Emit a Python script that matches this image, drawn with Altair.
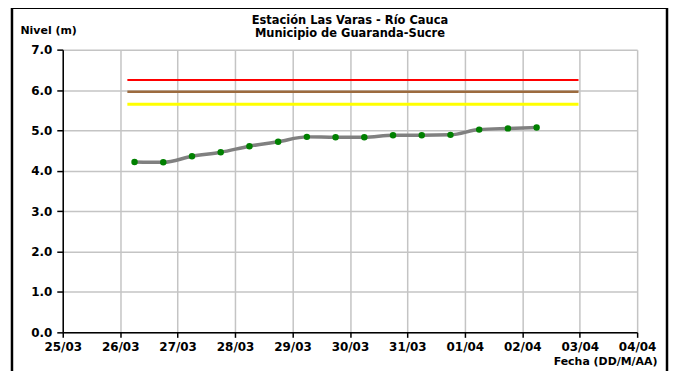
import altair as alt
import pandas as pd

# ---- data ----
times = [
    "2011-03-26T06:00", "2011-03-26T18:00", "2011-03-27T06:00", "2011-03-27T18:00",
    "2011-03-28T06:00", "2011-03-28T18:00", "2011-03-29T06:00", "2011-03-29T18:00",
    "2011-03-30T06:00", "2011-03-30T18:00", "2011-03-31T06:00", "2011-03-31T18:00",
    "2011-04-01T06:00", "2011-04-01T18:00", "2011-04-02T06:00",
]
levels = [4.22, 4.21, 4.36, 4.46, 4.61, 4.72, 4.84, 4.83, 4.83, 4.88, 4.88, 4.89, 5.02, 5.05, 5.07]

thr_levels = [6.25, 5.96, 5.65]
thr_colors = ["#ff0000", "#9c6b3f", "#ffff00"]
thr_widths = [2, 2.5, 3]
thr_start = "2011-03-26T03:00"
thr_end = "2011-04-02T23:30"

tick_days = [(3, d) for d in range(25, 32)] + [(4, d) for d in range(1, 5)]
y_ticks = [0, 1, 2, 3, 4, 5, 6, 7]

title_lines = ["Estación Las Varas - Río Cauca", "Municipio de Guaranda-Sucre"]
y_title = "Nivel (m)"
x_title = "Fecha (DD/M/AA)"

FONT = "DejaVu Sans"

df = pd.DataFrame({"t": times, "nivel": levels})
thr = pd.DataFrame({
    "nivel": thr_levels,
    "color": thr_colors,
    "w": thr_widths,
    "t0": [thr_start] * 3,
    "t1": [thr_end] * 3,
})

x_values = [alt.DateTime(year=2011, month=m, date=d) for m, d in tick_days]
x_domain = [alt.DateTime(year=2011, month=3, date=25), alt.DateTime(year=2011, month=4, date=4)]

x_scale = alt.Scale(domain=x_domain, nice=False)
y_scale = alt.Scale(domain=[0, 7], nice=False)

x_axis = alt.Axis(
    values=x_values, format="%d/%m", title=x_title, labelFlush=False,
    titleX=597, titleY=29, titleAlign="right", titleBaseline="middle",
    tickSize=5, labelPadding=4,
)
y_axis = alt.Axis(
    values=y_ticks, format=".1f", title=y_title, labelFlush=False,
    titleAngle=0, titleX=-43, titleY=-19, titleAlign="left", titleBaseline="middle",
    tickSize=6, labelPadding=5,
)

base = alt.Chart(df)

thr_layer = alt.Chart(thr).mark_rule().encode(
    x=alt.X("t0:T", scale=x_scale, axis=x_axis),
    x2="t1:T",
    y=alt.Y("nivel:Q", scale=y_scale, axis=y_axis),
    color=alt.Color("color:N", scale=None),
    strokeWidth=alt.StrokeWidth("w:Q", scale=None),
)

line = base.mark_line(interpolate="monotone", color="#808080", strokeWidth=3.5).encode(
    x=alt.X("t:T", scale=x_scale, axis=x_axis),
    y=alt.Y("nivel:Q", scale=y_scale, axis=y_axis),
)

pts = base.mark_circle(color="#008000", size=42, opacity=1).encode(
    x=alt.X("t:T", scale=x_scale),
    y=alt.Y("nivel:Q", scale=y_scale),
)

frame = alt.Chart(pd.DataFrame({"a": [0]})).mark_rect(
    filled=False, stroke="black", strokeWidth=2.5, clip=False
).encode(
    x=alt.value(-51), x2=alt.value(607), y=alt.value(-42), y2=alt.value(340)
)

title_layers = []
for txt, ypos in zip(title_lines, [-29, -16]):
    title_layers.append(
        alt.Chart(pd.DataFrame({"txt": [txt]})).mark_text(
            font=FONT, fontSize=11.5, fontWeight="bold", color="black",
            align="center", baseline="middle", clip=False,
        ).encode(text="txt:N", x=alt.value(288.5), y=alt.value(ypos))
    )

chart = alt.layer(thr_layer, line, pts, frame, *title_layers).properties(
    width=577,
    height=284,
    autosize=alt.AutoSizeParams(type="none"),
    padding={"left": 55, "top": 41, "right": 32, "bottom": 38},
).configure_view(stroke=None).configure_axis(
    labelFont=FONT, labelFontSize=12, labelFontWeight="bold", labelColor="black",
    titleFont=FONT, titleFontSize=11, titleFontWeight="bold", titleColor="black",
    gridColor="#c4c4c4", gridWidth=1.5, domainColor="black", domainWidth=1.5,
    tickColor="black", tickWidth=1.5,
)

chart.save("out.html", embed_options={"renderer": "svg", "actions": False})
